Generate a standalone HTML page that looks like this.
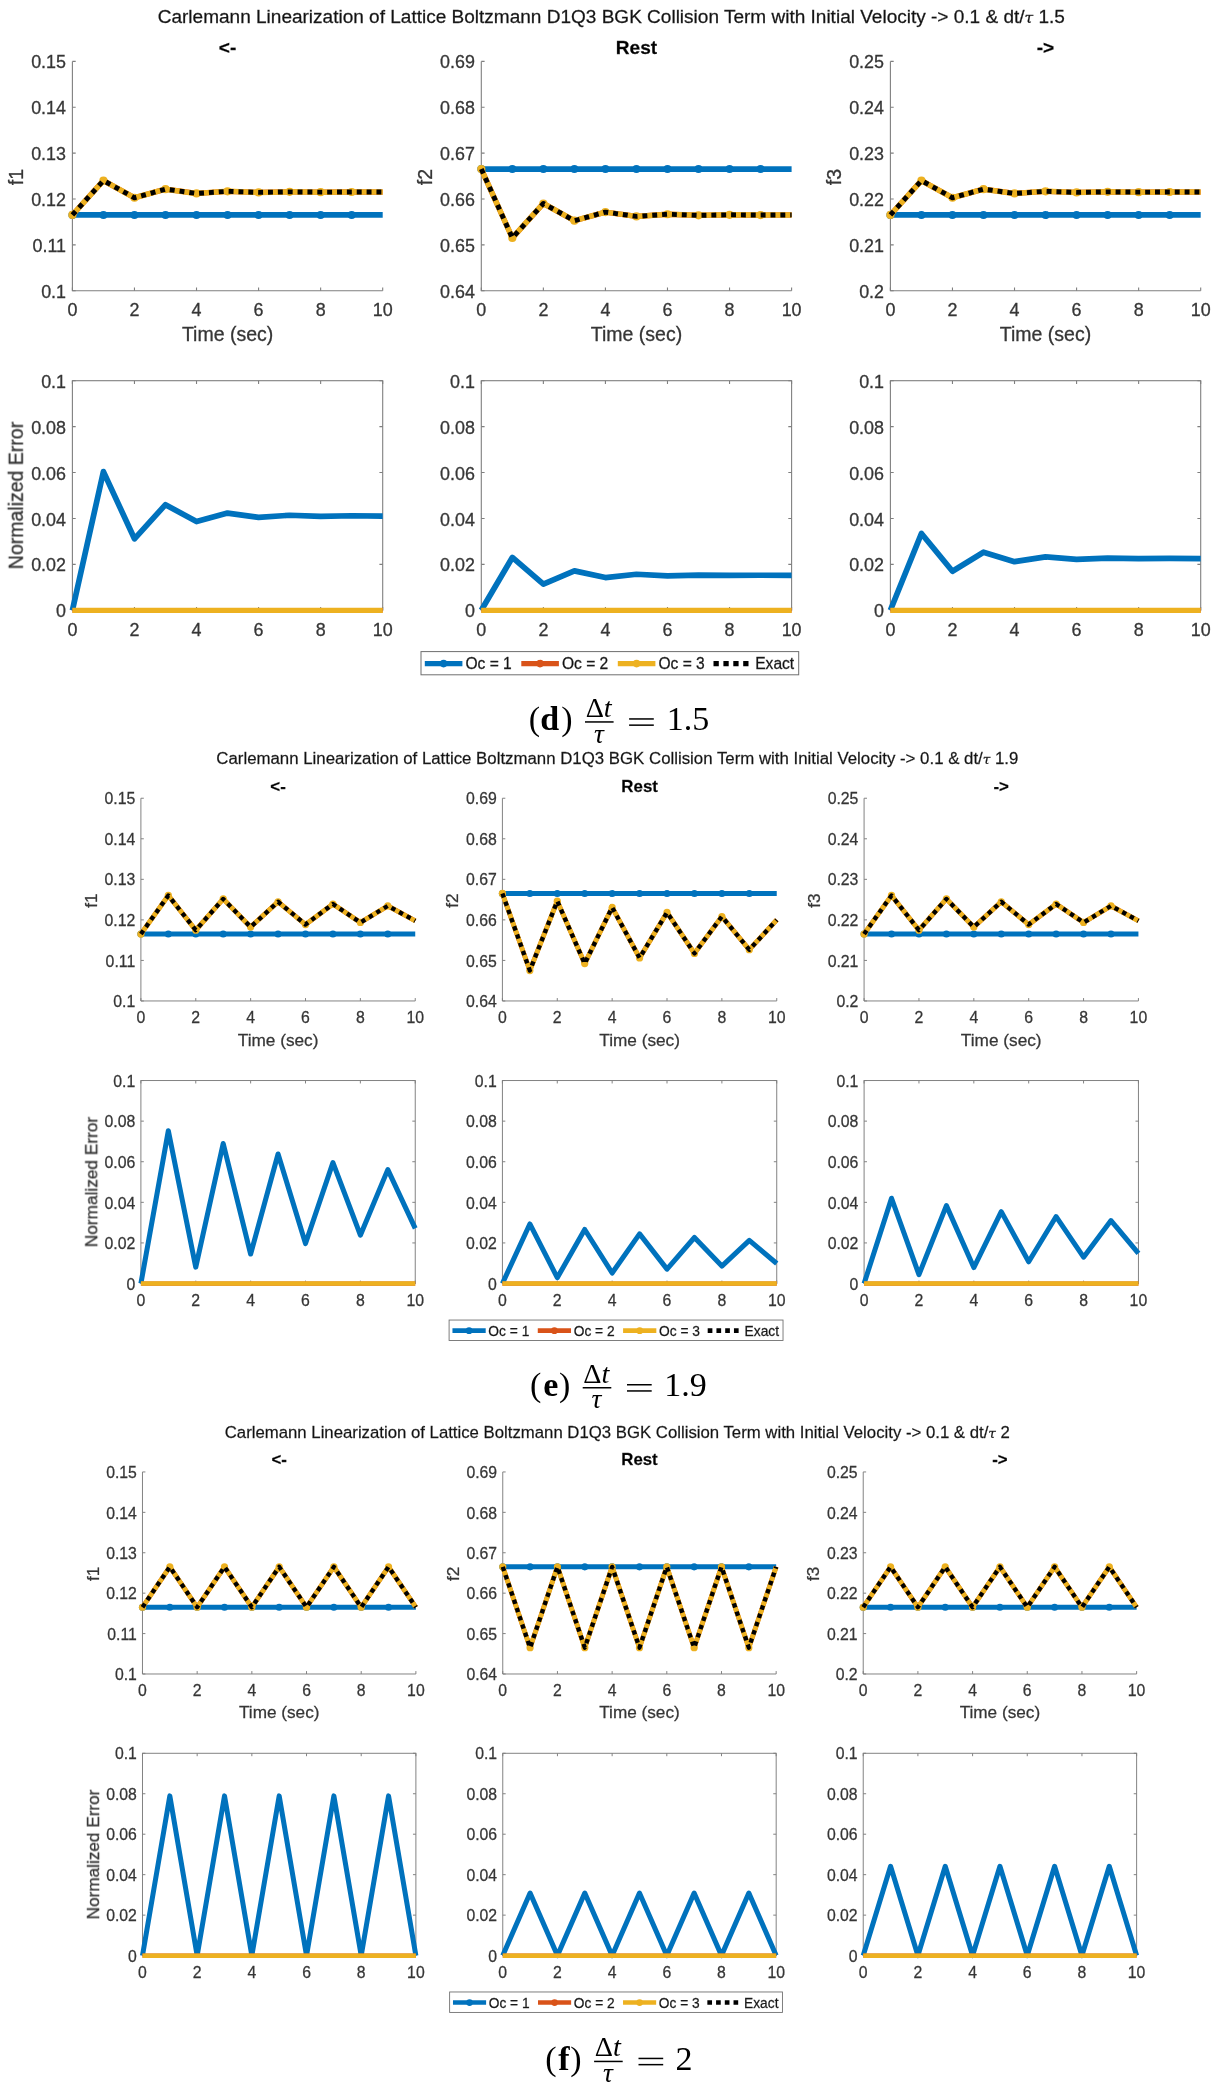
<!DOCTYPE html>
<html lang="en"><head><meta charset="utf-8"><title>Carlemann Linearization of Lattice Boltzmann D1Q3 BGK Collision Term</title>
<style>
html,body{margin:0;padding:0;background:#fff}
body{width:1217px;height:2090px;overflow:hidden}
svg{display:block}
svg text{font-family:"Liberation Sans",sans-serif}
svg text .tau{font-family:"DejaVu Serif","Liberation Serif",serif}
svg .fig text{stroke:#363636;stroke-width:0.3px}
svg .fig{filter:blur(0.45px)}
svg .ser text{font-family:"Liberation Serif","DejaVu Serif",serif}
</style></head><body>
<svg width="1217" height="2090" viewBox="0 0 1217 2090">
<rect width="1217" height="2090" fill="#fff"/>
<g class="fig" transform="translate(0.00,0.00) scale(1)">
<text x="611.3" y="22.8" font-size="19.03" text-anchor="middle" fill="#111">Carlemann Linearization of Lattice Boltzmann D1Q3 BGK Collision Term with Initial Velocity -&gt; 0.1 &amp; dt/<tspan class="tau" font-style="italic" font-size="15.5">τ</tspan> 1.5</text>
<path d="M72.4 61.4V290.7H382.70000000000005" fill="none" stroke="#7f7f7f" stroke-width="1.1"/>
<path d="M72.4 290.7v-3.3M72.4 61.4h3.3M134.46 290.7v-3.3M72.4 107.26h3.3M196.52 290.7v-3.3M72.4 153.12h3.3M258.58 290.7v-3.3M72.4 198.98h3.3M320.64 290.7v-3.3M72.4 244.84h3.3M382.7 290.7v-3.3M72.4 290.7h3.3" fill="none" stroke="#7f7f7f" stroke-width="1.1"/>
<text x="72.4" y="316.1" font-size="17.9" text-anchor="middle" fill="#363636">0</text>
<text x="66.0" y="297.7" font-size="17.9" text-anchor="end" fill="#363636">0.1</text>
<text x="134.46" y="316.1" font-size="17.9" text-anchor="middle" fill="#363636">2</text>
<text x="66.0" y="251.8" font-size="17.9" text-anchor="end" fill="#363636">0.11</text>
<text x="196.52" y="316.1" font-size="17.9" text-anchor="middle" fill="#363636">4</text>
<text x="66.0" y="206.0" font-size="17.9" text-anchor="end" fill="#363636">0.12</text>
<text x="258.58" y="316.1" font-size="17.9" text-anchor="middle" fill="#363636">6</text>
<text x="66.0" y="160.1" font-size="17.9" text-anchor="end" fill="#363636">0.13</text>
<text x="320.64" y="316.1" font-size="17.9" text-anchor="middle" fill="#363636">8</text>
<text x="66.0" y="114.3" font-size="17.9" text-anchor="end" fill="#363636">0.14</text>
<text x="382.7" y="316.1" font-size="17.9" text-anchor="middle" fill="#363636">10</text>
<text x="66.0" y="68.4" font-size="17.9" text-anchor="end" fill="#363636">0.15</text>
<text x="227.6" y="341.1" font-size="19.5" text-anchor="middle" fill="#363636">Time (sec)</text>
<text transform="translate(22.7,177.1) rotate(-90)" font-size="19.5" text-anchor="middle" fill="#363636">f1</text>
<text x="227.6" y="53.8" font-size="19.07" font-weight="bold" text-anchor="middle" fill="#000">&lt;-</text>
<path d="M72.4 214.97H382.7" stroke="#0072BD" stroke-width="5.7" fill="none"/>
<g fill="#0072BD"><circle cx="72.4" cy="214.97" r="4.0"/><circle cx="103.43" cy="214.97" r="4.0"/><circle cx="134.46" cy="214.97" r="4.0"/><circle cx="165.49" cy="214.97" r="4.0"/><circle cx="196.52" cy="214.97" r="4.0"/><circle cx="227.55" cy="214.97" r="4.0"/><circle cx="258.58" cy="214.97" r="4.0"/><circle cx="289.61" cy="214.97" r="4.0"/><circle cx="320.64" cy="214.97" r="4.0"/><circle cx="351.67" cy="214.97" r="4.0"/></g>
<polyline points="72.4,214.97 103.43,180.57 134.46,197.77 165.49,189.17 196.52,193.47 227.55,191.32 258.58,192.39 289.61,191.86 320.64,192.13 351.67,191.99 382.7,192.06" stroke="#D95319" stroke-width="5.3" fill="none" stroke-linejoin="round"/>
<polyline points="72.4,214.97 103.43,180.57 134.46,197.77 165.49,189.17 196.52,193.47 227.55,191.32 258.58,192.39 289.61,191.86 320.64,192.13 351.67,191.99 382.7,192.06" stroke="#EDB120" stroke-width="5.5" fill="none" stroke-linejoin="round"/>
<g fill="#EDB120"><circle cx="72.4" cy="214.97" r="4.1"/><circle cx="103.43" cy="180.57" r="4.1"/><circle cx="134.46" cy="197.77" r="4.1"/><circle cx="165.49" cy="189.17" r="4.1"/><circle cx="196.52" cy="193.47" r="4.1"/><circle cx="227.55" cy="191.32" r="4.1"/><circle cx="258.58" cy="192.39" r="4.1"/><circle cx="289.61" cy="191.86" r="4.1"/><circle cx="320.64" cy="192.13" r="4.1"/><circle cx="351.67" cy="191.99" r="4.1"/></g>
<polyline points="72.4,214.97 103.43,180.57 134.46,197.77 165.49,189.17 196.52,193.47 227.55,191.32 258.58,192.39 289.61,191.86 320.64,192.13 351.67,191.99 382.7,192.06" stroke="#000" stroke-width="4.9" fill="none" stroke-dasharray="4.93 4.93" stroke-linejoin="round"/>
<rect x="72.4" y="380.7" width="310.3" height="229.6" fill="none" stroke="#7f7f7f" stroke-width="1.1"/>
<path d="M72.4 610.3v-3.3M72.4 380.7v3.3M72.4 380.7h3.3M382.70000000000005 380.7h-3.3M134.46 610.3v-3.3M134.46 380.7v3.3M72.4 426.62h3.3M382.70000000000005 426.62h-3.3M196.52 610.3v-3.3M196.52 380.7v3.3M72.4 472.54h3.3M382.70000000000005 472.54h-3.3M258.58 610.3v-3.3M258.58 380.7v3.3M72.4 518.46h3.3M382.70000000000005 518.46h-3.3M320.64 610.3v-3.3M320.64 380.7v3.3M72.4 564.38h3.3M382.70000000000005 564.38h-3.3M382.7 610.3v-3.3M382.7 380.7v3.3M72.4 610.3h3.3M382.70000000000005 610.3h-3.3" fill="none" stroke="#7f7f7f" stroke-width="1.1"/>
<text x="72.4" y="635.7" font-size="17.9" text-anchor="middle" fill="#363636">0</text>
<text x="66.0" y="617.3" font-size="17.9" text-anchor="end" fill="#363636">0</text>
<text x="134.46" y="635.7" font-size="17.9" text-anchor="middle" fill="#363636">2</text>
<text x="66.0" y="571.4" font-size="17.9" text-anchor="end" fill="#363636">0.02</text>
<text x="196.52" y="635.7" font-size="17.9" text-anchor="middle" fill="#363636">4</text>
<text x="66.0" y="525.5" font-size="17.9" text-anchor="end" fill="#363636">0.04</text>
<text x="258.58" y="635.7" font-size="17.9" text-anchor="middle" fill="#363636">6</text>
<text x="66.0" y="479.5" font-size="17.9" text-anchor="end" fill="#363636">0.06</text>
<text x="320.64" y="635.7" font-size="17.9" text-anchor="middle" fill="#363636">8</text>
<text x="66.0" y="433.6" font-size="17.9" text-anchor="end" fill="#363636">0.08</text>
<text x="382.7" y="635.7" font-size="17.9" text-anchor="middle" fill="#363636">10</text>
<text x="66.0" y="387.7" font-size="17.9" text-anchor="end" fill="#363636">0.1</text>
<text transform="translate(22.8,495.5) rotate(-90)" font-size="19.5" text-anchor="middle" fill="#363636">Normalized Error</text>
<polyline points="72.4,610.3 103.43,471.62 134.46,538.8 165.49,504.69 196.52,521.61 227.55,513.12 258.58,517.36 289.61,515.24 320.64,516.3 351.67,515.77 382.7,516.03" stroke="#0072BD" stroke-width="5.7" fill="none" stroke-linejoin="round"/>
<path d="M72.4 610.3H382.70000000000005" stroke="#D95319" stroke-width="4.8" fill="none"/>
<path d="M72.4 610.4H382.70000000000005" stroke="#EDB120" stroke-width="5.1" fill="none"/>
<path d="M481.3 61.4V290.7H791.6" fill="none" stroke="#7f7f7f" stroke-width="1.1"/>
<path d="M481.3 290.7v-3.3M481.3 61.4h3.3M543.36 290.7v-3.3M481.3 107.26h3.3M605.42 290.7v-3.3M481.3 153.12h3.3M667.48 290.7v-3.3M481.3 198.98h3.3M729.54 290.7v-3.3M481.3 244.84h3.3M791.6 290.7v-3.3M481.3 290.7h3.3" fill="none" stroke="#7f7f7f" stroke-width="1.1"/>
<text x="481.3" y="316.1" font-size="17.9" text-anchor="middle" fill="#363636">0</text>
<text x="474.9" y="297.7" font-size="17.9" text-anchor="end" fill="#363636">0.64</text>
<text x="543.36" y="316.1" font-size="17.9" text-anchor="middle" fill="#363636">2</text>
<text x="474.9" y="251.8" font-size="17.9" text-anchor="end" fill="#363636">0.65</text>
<text x="605.42" y="316.1" font-size="17.9" text-anchor="middle" fill="#363636">4</text>
<text x="474.9" y="206.0" font-size="17.9" text-anchor="end" fill="#363636">0.66</text>
<text x="667.48" y="316.1" font-size="17.9" text-anchor="middle" fill="#363636">6</text>
<text x="474.9" y="160.1" font-size="17.9" text-anchor="end" fill="#363636">0.67</text>
<text x="729.54" y="316.1" font-size="17.9" text-anchor="middle" fill="#363636">8</text>
<text x="474.9" y="114.3" font-size="17.9" text-anchor="end" fill="#363636">0.68</text>
<text x="791.6" y="316.1" font-size="17.9" text-anchor="middle" fill="#363636">10</text>
<text x="474.9" y="68.4" font-size="17.9" text-anchor="end" fill="#363636">0.69</text>
<text x="636.5" y="341.1" font-size="19.5" text-anchor="middle" fill="#363636">Time (sec)</text>
<text transform="translate(431.6,177.1) rotate(-90)" font-size="19.5" text-anchor="middle" fill="#363636">f2</text>
<text x="636.5" y="53.8" font-size="19.07" font-weight="bold" text-anchor="middle" fill="#000">Rest</text>
<path d="M481.3 169.11H791.6" stroke="#0072BD" stroke-width="5.7" fill="none"/>
<g fill="#0072BD"><circle cx="481.3" cy="169.11" r="4.0"/><circle cx="512.33" cy="169.11" r="4.0"/><circle cx="543.36" cy="169.11" r="4.0"/><circle cx="574.39" cy="169.11" r="4.0"/><circle cx="605.42" cy="169.11" r="4.0"/><circle cx="636.45" cy="169.11" r="4.0"/><circle cx="667.48" cy="169.11" r="4.0"/><circle cx="698.51" cy="169.11" r="4.0"/><circle cx="729.54" cy="169.11" r="4.0"/><circle cx="760.57" cy="169.11" r="4.0"/></g>
<polyline points="481.3,169.11 512.33,237.9 543.36,203.5 574.39,220.7 605.42,212.1 636.45,216.4 667.48,214.25 698.51,215.32 729.54,214.79 760.57,215.06 791.6,214.92" stroke="#D95319" stroke-width="5.3" fill="none" stroke-linejoin="round"/>
<polyline points="481.3,169.11 512.33,237.9 543.36,203.5 574.39,220.7 605.42,212.1 636.45,216.4 667.48,214.25 698.51,215.32 729.54,214.79 760.57,215.06 791.6,214.92" stroke="#EDB120" stroke-width="5.5" fill="none" stroke-linejoin="round"/>
<g fill="#EDB120"><circle cx="481.3" cy="169.11" r="4.1"/><circle cx="512.33" cy="237.9" r="4.1"/><circle cx="543.36" cy="203.5" r="4.1"/><circle cx="574.39" cy="220.7" r="4.1"/><circle cx="605.42" cy="212.1" r="4.1"/><circle cx="636.45" cy="216.4" r="4.1"/><circle cx="667.48" cy="214.25" r="4.1"/><circle cx="698.51" cy="215.32" r="4.1"/><circle cx="729.54" cy="214.79" r="4.1"/><circle cx="760.57" cy="215.06" r="4.1"/></g>
<polyline points="481.3,169.11 512.33,237.9 543.36,203.5 574.39,220.7 605.42,212.1 636.45,216.4 667.48,214.25 698.51,215.32 729.54,214.79 760.57,215.06 791.6,214.92" stroke="#000" stroke-width="4.9" fill="none" stroke-dasharray="4.93 4.93" stroke-linejoin="round"/>
<rect x="481.3" y="380.7" width="310.3" height="229.6" fill="none" stroke="#7f7f7f" stroke-width="1.1"/>
<path d="M481.3 610.3v-3.3M481.3 380.7v3.3M481.3 380.7h3.3M791.6 380.7h-3.3M543.36 610.3v-3.3M543.36 380.7v3.3M481.3 426.62h3.3M791.6 426.62h-3.3M605.42 610.3v-3.3M605.42 380.7v3.3M481.3 472.54h3.3M791.6 472.54h-3.3M667.48 610.3v-3.3M667.48 380.7v3.3M481.3 518.46h3.3M791.6 518.46h-3.3M729.54 610.3v-3.3M729.54 380.7v3.3M481.3 564.38h3.3M791.6 564.38h-3.3M791.6 610.3v-3.3M791.6 380.7v3.3M481.3 610.3h3.3M791.6 610.3h-3.3" fill="none" stroke="#7f7f7f" stroke-width="1.1"/>
<text x="481.3" y="635.7" font-size="17.9" text-anchor="middle" fill="#363636">0</text>
<text x="474.9" y="617.3" font-size="17.9" text-anchor="end" fill="#363636">0</text>
<text x="543.36" y="635.7" font-size="17.9" text-anchor="middle" fill="#363636">2</text>
<text x="474.9" y="571.4" font-size="17.9" text-anchor="end" fill="#363636">0.02</text>
<text x="605.42" y="635.7" font-size="17.9" text-anchor="middle" fill="#363636">4</text>
<text x="474.9" y="525.5" font-size="17.9" text-anchor="end" fill="#363636">0.04</text>
<text x="667.48" y="635.7" font-size="17.9" text-anchor="middle" fill="#363636">6</text>
<text x="474.9" y="479.5" font-size="17.9" text-anchor="end" fill="#363636">0.06</text>
<text x="729.54" y="635.7" font-size="17.9" text-anchor="middle" fill="#363636">8</text>
<text x="474.9" y="433.6" font-size="17.9" text-anchor="end" fill="#363636">0.08</text>
<text x="791.6" y="635.7" font-size="17.9" text-anchor="middle" fill="#363636">10</text>
<text x="474.9" y="387.7" font-size="17.9" text-anchor="end" fill="#363636">0.1</text>
<polyline points="481.3,610.3 512.33,557.45 543.36,584.18 574.39,570.89 605.42,577.55 636.45,574.23 667.48,575.89 698.51,575.06 729.54,575.47 760.57,575.27 791.6,575.37" stroke="#0072BD" stroke-width="5.7" fill="none" stroke-linejoin="round"/>
<path d="M481.3 610.3H791.6" stroke="#D95319" stroke-width="4.8" fill="none"/>
<path d="M481.3 610.4H791.6" stroke="#EDB120" stroke-width="5.1" fill="none"/>
<path d="M890.4 61.4V290.7H1200.7" fill="none" stroke="#7f7f7f" stroke-width="1.1"/>
<path d="M890.4 290.7v-3.3M890.4 61.4h3.3M952.46 290.7v-3.3M890.4 107.26h3.3M1014.52 290.7v-3.3M890.4 153.12h3.3M1076.58 290.7v-3.3M890.4 198.98h3.3M1138.64 290.7v-3.3M890.4 244.84h3.3M1200.7 290.7v-3.3M890.4 290.7h3.3" fill="none" stroke="#7f7f7f" stroke-width="1.1"/>
<text x="890.4" y="316.1" font-size="17.9" text-anchor="middle" fill="#363636">0</text>
<text x="884.0" y="297.7" font-size="17.9" text-anchor="end" fill="#363636">0.2</text>
<text x="952.46" y="316.1" font-size="17.9" text-anchor="middle" fill="#363636">2</text>
<text x="884.0" y="251.8" font-size="17.9" text-anchor="end" fill="#363636">0.21</text>
<text x="1014.52" y="316.1" font-size="17.9" text-anchor="middle" fill="#363636">4</text>
<text x="884.0" y="206.0" font-size="17.9" text-anchor="end" fill="#363636">0.22</text>
<text x="1076.58" y="316.1" font-size="17.9" text-anchor="middle" fill="#363636">6</text>
<text x="884.0" y="160.1" font-size="17.9" text-anchor="end" fill="#363636">0.23</text>
<text x="1138.64" y="316.1" font-size="17.9" text-anchor="middle" fill="#363636">8</text>
<text x="884.0" y="114.3" font-size="17.9" text-anchor="end" fill="#363636">0.24</text>
<text x="1200.7" y="316.1" font-size="17.9" text-anchor="middle" fill="#363636">10</text>
<text x="884.0" y="68.4" font-size="17.9" text-anchor="end" fill="#363636">0.25</text>
<text x="1045.5" y="341.1" font-size="19.5" text-anchor="middle" fill="#363636">Time (sec)</text>
<text transform="translate(840.7,177.1) rotate(-90)" font-size="19.5" text-anchor="middle" fill="#363636">f3</text>
<text x="1045.5" y="53.8" font-size="19.07" font-weight="bold" text-anchor="middle" fill="#000">-&gt;</text>
<path d="M890.4 214.97H1200.7" stroke="#0072BD" stroke-width="5.7" fill="none"/>
<g fill="#0072BD"><circle cx="890.4" cy="214.97" r="4.0"/><circle cx="921.43" cy="214.97" r="4.0"/><circle cx="952.46" cy="214.97" r="4.0"/><circle cx="983.49" cy="214.97" r="4.0"/><circle cx="1014.52" cy="214.97" r="4.0"/><circle cx="1045.55" cy="214.97" r="4.0"/><circle cx="1076.58" cy="214.97" r="4.0"/><circle cx="1107.61" cy="214.97" r="4.0"/><circle cx="1138.64" cy="214.97" r="4.0"/><circle cx="1169.67" cy="214.97" r="4.0"/></g>
<polyline points="890.4,214.97 921.43,180.57 952.46,197.77 983.49,189.17 1014.52,193.47 1045.55,191.32 1076.58,192.39 1107.61,191.86 1138.64,192.13 1169.67,191.99 1200.7,192.06" stroke="#D95319" stroke-width="5.3" fill="none" stroke-linejoin="round"/>
<polyline points="890.4,214.97 921.43,180.57 952.46,197.77 983.49,189.17 1014.52,193.47 1045.55,191.32 1076.58,192.39 1107.61,191.86 1138.64,192.13 1169.67,191.99 1200.7,192.06" stroke="#EDB120" stroke-width="5.5" fill="none" stroke-linejoin="round"/>
<g fill="#EDB120"><circle cx="890.4" cy="214.97" r="4.1"/><circle cx="921.43" cy="180.57" r="4.1"/><circle cx="952.46" cy="197.77" r="4.1"/><circle cx="983.49" cy="189.17" r="4.1"/><circle cx="1014.52" cy="193.47" r="4.1"/><circle cx="1045.55" cy="191.32" r="4.1"/><circle cx="1076.58" cy="192.39" r="4.1"/><circle cx="1107.61" cy="191.86" r="4.1"/><circle cx="1138.64" cy="192.13" r="4.1"/><circle cx="1169.67" cy="191.99" r="4.1"/></g>
<polyline points="890.4,214.97 921.43,180.57 952.46,197.77 983.49,189.17 1014.52,193.47 1045.55,191.32 1076.58,192.39 1107.61,191.86 1138.64,192.13 1169.67,191.99 1200.7,192.06" stroke="#000" stroke-width="4.9" fill="none" stroke-dasharray="4.93 4.93" stroke-linejoin="round"/>
<rect x="890.4" y="380.7" width="310.3" height="229.6" fill="none" stroke="#7f7f7f" stroke-width="1.1"/>
<path d="M890.4 610.3v-3.3M890.4 380.7v3.3M890.4 380.7h3.3M1200.7 380.7h-3.3M952.46 610.3v-3.3M952.46 380.7v3.3M890.4 426.62h3.3M1200.7 426.62h-3.3M1014.52 610.3v-3.3M1014.52 380.7v3.3M890.4 472.54h3.3M1200.7 472.54h-3.3M1076.58 610.3v-3.3M1076.58 380.7v3.3M890.4 518.46h3.3M1200.7 518.46h-3.3M1138.64 610.3v-3.3M1138.64 380.7v3.3M890.4 564.38h3.3M1200.7 564.38h-3.3M1200.7 610.3v-3.3M1200.7 380.7v3.3M890.4 610.3h3.3M1200.7 610.3h-3.3" fill="none" stroke="#7f7f7f" stroke-width="1.1"/>
<text x="890.4" y="635.7" font-size="17.9" text-anchor="middle" fill="#363636">0</text>
<text x="884.0" y="617.3" font-size="17.9" text-anchor="end" fill="#363636">0</text>
<text x="952.46" y="635.7" font-size="17.9" text-anchor="middle" fill="#363636">2</text>
<text x="884.0" y="571.4" font-size="17.9" text-anchor="end" fill="#363636">0.02</text>
<text x="1014.52" y="635.7" font-size="17.9" text-anchor="middle" fill="#363636">4</text>
<text x="884.0" y="525.5" font-size="17.9" text-anchor="end" fill="#363636">0.04</text>
<text x="1076.58" y="635.7" font-size="17.9" text-anchor="middle" fill="#363636">6</text>
<text x="884.0" y="479.5" font-size="17.9" text-anchor="end" fill="#363636">0.06</text>
<text x="1138.64" y="635.7" font-size="17.9" text-anchor="middle" fill="#363636">8</text>
<text x="884.0" y="433.6" font-size="17.9" text-anchor="end" fill="#363636">0.08</text>
<text x="1200.7" y="635.7" font-size="17.9" text-anchor="middle" fill="#363636">10</text>
<text x="884.0" y="387.7" font-size="17.9" text-anchor="end" fill="#363636">0.1</text>
<polyline points="890.4,610.3 921.43,533.48 952.46,571.24 983.49,552.2 1014.52,561.68 1045.55,556.93 1076.58,559.3 1107.61,558.12 1138.64,558.71 1169.67,558.41 1200.7,558.56" stroke="#0072BD" stroke-width="5.7" fill="none" stroke-linejoin="round"/>
<path d="M890.4 610.3H1200.7" stroke="#D95319" stroke-width="4.8" fill="none"/>
<path d="M890.4 610.4H1200.7" stroke="#EDB120" stroke-width="5.1" fill="none"/>
<rect x="421.0" y="651.6" width="377.7" height="23.2" fill="#fff" stroke="#6e6e6e" stroke-width="1"/>
<path d="M424.8 663.6h37.6" stroke="#0072BD" stroke-width="5.2" fill="none"/><circle cx="443.6" cy="663.6" r="3.8" fill="#0072BD"/>
<text x="465.4" y="669.3" font-size="15.6" fill="#111">Oc = 1</text>
<path d="M521.3 663.6h37.6" stroke="#D95319" stroke-width="5.2" fill="none"/><circle cx="540.1" cy="663.6" r="3.8" fill="#D95319"/>
<text x="561.9" y="669.3" font-size="15.6" fill="#111">Oc = 2</text>
<path d="M617.8 663.6h37.6" stroke="#EDB120" stroke-width="5.2" fill="none"/><circle cx="636.6" cy="663.6" r="3.8" fill="#EDB120"/>
<text x="658.4" y="669.3" font-size="15.6" fill="#111">Oc = 3</text>
<path d="M713.5 663.6h36" stroke="#000" stroke-width="5.2" stroke-dasharray="5.3 4.6" fill="none"/>
<text x="755.2" y="669.3" font-size="15.6" fill="#111">Exact</text>
</g>
<g class="fig" transform="translate(76.89,743.96) scale(0.8841)">
<text x="611.3" y="22.8" font-size="19.03" text-anchor="middle" fill="#111">Carlemann Linearization of Lattice Boltzmann D1Q3 BGK Collision Term with Initial Velocity -&gt; 0.1 &amp; dt/<tspan class="tau" font-style="italic" font-size="15.5">τ</tspan> 1.9</text>
<path d="M72.4 61.4V290.7H382.70000000000005" fill="none" stroke="#7f7f7f" stroke-width="1.1"/>
<path d="M72.4 290.7v-3.3M72.4 61.4h3.3M134.46 290.7v-3.3M72.4 107.26h3.3M196.52 290.7v-3.3M72.4 153.12h3.3M258.58 290.7v-3.3M72.4 198.98h3.3M320.64 290.7v-3.3M72.4 244.84h3.3M382.7 290.7v-3.3M72.4 290.7h3.3" fill="none" stroke="#7f7f7f" stroke-width="1.1"/>
<text x="72.4" y="316.1" font-size="17.9" text-anchor="middle" fill="#363636">0</text>
<text x="66.0" y="297.7" font-size="17.9" text-anchor="end" fill="#363636">0.1</text>
<text x="134.46" y="316.1" font-size="17.9" text-anchor="middle" fill="#363636">2</text>
<text x="66.0" y="251.8" font-size="17.9" text-anchor="end" fill="#363636">0.11</text>
<text x="196.52" y="316.1" font-size="17.9" text-anchor="middle" fill="#363636">4</text>
<text x="66.0" y="206.0" font-size="17.9" text-anchor="end" fill="#363636">0.12</text>
<text x="258.58" y="316.1" font-size="17.9" text-anchor="middle" fill="#363636">6</text>
<text x="66.0" y="160.1" font-size="17.9" text-anchor="end" fill="#363636">0.13</text>
<text x="320.64" y="316.1" font-size="17.9" text-anchor="middle" fill="#363636">8</text>
<text x="66.0" y="114.3" font-size="17.9" text-anchor="end" fill="#363636">0.14</text>
<text x="382.7" y="316.1" font-size="17.9" text-anchor="middle" fill="#363636">10</text>
<text x="66.0" y="68.4" font-size="17.9" text-anchor="end" fill="#363636">0.15</text>
<text x="227.6" y="341.1" font-size="19.5" text-anchor="middle" fill="#363636">Time (sec)</text>
<text transform="translate(22.7,177.1) rotate(-90)" font-size="19.5" text-anchor="middle" fill="#363636">f1</text>
<text x="227.6" y="53.8" font-size="19.07" font-weight="bold" text-anchor="middle" fill="#000">&lt;-</text>
<path d="M72.4 214.97H382.7" stroke="#0072BD" stroke-width="5.7" fill="none"/>
<g fill="#0072BD"><circle cx="72.4" cy="214.97" r="4.0"/><circle cx="103.43" cy="214.97" r="4.0"/><circle cx="134.46" cy="214.97" r="4.0"/><circle cx="165.49" cy="214.97" r="4.0"/><circle cx="196.52" cy="214.97" r="4.0"/><circle cx="227.55" cy="214.97" r="4.0"/><circle cx="258.58" cy="214.97" r="4.0"/><circle cx="289.61" cy="214.97" r="4.0"/><circle cx="320.64" cy="214.97" r="4.0"/><circle cx="351.67" cy="214.97" r="4.0"/></g>
<polyline points="72.4,214.97 103.43,171.4 134.46,210.61 165.49,175.32 196.52,207.08 227.55,178.5 258.58,204.22 289.61,181.07 320.64,201.91 351.67,183.15 382.7,200.03" stroke="#D95319" stroke-width="5.3" fill="none" stroke-linejoin="round"/>
<polyline points="72.4,214.97 103.43,171.4 134.46,210.61 165.49,175.32 196.52,207.08 227.55,178.5 258.58,204.22 289.61,181.07 320.64,201.91 351.67,183.15 382.7,200.03" stroke="#EDB120" stroke-width="5.5" fill="none" stroke-linejoin="round"/>
<g fill="#EDB120"><circle cx="72.4" cy="214.97" r="4.1"/><circle cx="103.43" cy="171.4" r="4.1"/><circle cx="134.46" cy="210.61" r="4.1"/><circle cx="165.49" cy="175.32" r="4.1"/><circle cx="196.52" cy="207.08" r="4.1"/><circle cx="227.55" cy="178.5" r="4.1"/><circle cx="258.58" cy="204.22" r="4.1"/><circle cx="289.61" cy="181.07" r="4.1"/><circle cx="320.64" cy="201.91" r="4.1"/><circle cx="351.67" cy="183.15" r="4.1"/></g>
<polyline points="72.4,214.97 103.43,171.4 134.46,210.61 165.49,175.32 196.52,207.08 227.55,178.5 258.58,204.22 289.61,181.07 320.64,201.91 351.67,183.15 382.7,200.03" stroke="#000" stroke-width="4.9" fill="none" stroke-dasharray="4.93 4.93" stroke-linejoin="round"/>
<rect x="72.4" y="380.7" width="310.3" height="229.6" fill="none" stroke="#7f7f7f" stroke-width="1.1"/>
<path d="M72.4 610.3v-3.3M72.4 380.7v3.3M72.4 380.7h3.3M382.70000000000005 380.7h-3.3M134.46 610.3v-3.3M134.46 380.7v3.3M72.4 426.62h3.3M382.70000000000005 426.62h-3.3M196.52 610.3v-3.3M196.52 380.7v3.3M72.4 472.54h3.3M382.70000000000005 472.54h-3.3M258.58 610.3v-3.3M258.58 380.7v3.3M72.4 518.46h3.3M382.70000000000005 518.46h-3.3M320.64 610.3v-3.3M320.64 380.7v3.3M72.4 564.38h3.3M382.70000000000005 564.38h-3.3M382.7 610.3v-3.3M382.7 380.7v3.3M72.4 610.3h3.3M382.70000000000005 610.3h-3.3" fill="none" stroke="#7f7f7f" stroke-width="1.1"/>
<text x="72.4" y="635.7" font-size="17.9" text-anchor="middle" fill="#363636">0</text>
<text x="66.0" y="617.3" font-size="17.9" text-anchor="end" fill="#363636">0</text>
<text x="134.46" y="635.7" font-size="17.9" text-anchor="middle" fill="#363636">2</text>
<text x="66.0" y="571.4" font-size="17.9" text-anchor="end" fill="#363636">0.02</text>
<text x="196.52" y="635.7" font-size="17.9" text-anchor="middle" fill="#363636">4</text>
<text x="66.0" y="525.5" font-size="17.9" text-anchor="end" fill="#363636">0.04</text>
<text x="258.58" y="635.7" font-size="17.9" text-anchor="middle" fill="#363636">6</text>
<text x="66.0" y="479.5" font-size="17.9" text-anchor="end" fill="#363636">0.06</text>
<text x="320.64" y="635.7" font-size="17.9" text-anchor="middle" fill="#363636">8</text>
<text x="66.0" y="433.6" font-size="17.9" text-anchor="end" fill="#363636">0.08</text>
<text x="382.7" y="635.7" font-size="17.9" text-anchor="middle" fill="#363636">10</text>
<text x="66.0" y="387.7" font-size="17.9" text-anchor="end" fill="#363636">0.1</text>
<text transform="translate(22.8,495.5) rotate(-90)" font-size="19.5" text-anchor="middle" fill="#363636">Normalized Error</text>
<polyline points="72.4,610.3 103.43,437.42 134.46,591.76 165.49,451.9 196.52,576.95 227.55,463.78 258.58,565.1 289.61,473.5 320.64,555.59 351.67,481.44 382.7,547.95" stroke="#0072BD" stroke-width="5.7" fill="none" stroke-linejoin="round"/>
<path d="M72.4 610.3H382.70000000000005" stroke="#D95319" stroke-width="4.8" fill="none"/>
<path d="M72.4 610.4H382.70000000000005" stroke="#EDB120" stroke-width="5.1" fill="none"/>
<path d="M481.3 61.4V290.7H791.6" fill="none" stroke="#7f7f7f" stroke-width="1.1"/>
<path d="M481.3 290.7v-3.3M481.3 61.4h3.3M543.36 290.7v-3.3M481.3 107.26h3.3M605.42 290.7v-3.3M481.3 153.12h3.3M667.48 290.7v-3.3M481.3 198.98h3.3M729.54 290.7v-3.3M481.3 244.84h3.3M791.6 290.7v-3.3M481.3 290.7h3.3" fill="none" stroke="#7f7f7f" stroke-width="1.1"/>
<text x="481.3" y="316.1" font-size="17.9" text-anchor="middle" fill="#363636">0</text>
<text x="474.9" y="297.7" font-size="17.9" text-anchor="end" fill="#363636">0.64</text>
<text x="543.36" y="316.1" font-size="17.9" text-anchor="middle" fill="#363636">2</text>
<text x="474.9" y="251.8" font-size="17.9" text-anchor="end" fill="#363636">0.65</text>
<text x="605.42" y="316.1" font-size="17.9" text-anchor="middle" fill="#363636">4</text>
<text x="474.9" y="206.0" font-size="17.9" text-anchor="end" fill="#363636">0.66</text>
<text x="667.48" y="316.1" font-size="17.9" text-anchor="middle" fill="#363636">6</text>
<text x="474.9" y="160.1" font-size="17.9" text-anchor="end" fill="#363636">0.67</text>
<text x="729.54" y="316.1" font-size="17.9" text-anchor="middle" fill="#363636">8</text>
<text x="474.9" y="114.3" font-size="17.9" text-anchor="end" fill="#363636">0.68</text>
<text x="791.6" y="316.1" font-size="17.9" text-anchor="middle" fill="#363636">10</text>
<text x="474.9" y="68.4" font-size="17.9" text-anchor="end" fill="#363636">0.69</text>
<text x="636.5" y="341.1" font-size="19.5" text-anchor="middle" fill="#363636">Time (sec)</text>
<text transform="translate(431.6,177.1) rotate(-90)" font-size="19.5" text-anchor="middle" fill="#363636">f2</text>
<text x="636.5" y="53.8" font-size="19.07" font-weight="bold" text-anchor="middle" fill="#000">Rest</text>
<path d="M481.3 169.11H791.6" stroke="#0072BD" stroke-width="5.7" fill="none"/>
<g fill="#0072BD"><circle cx="481.3" cy="169.11" r="4.0"/><circle cx="512.33" cy="169.11" r="4.0"/><circle cx="543.36" cy="169.11" r="4.0"/><circle cx="574.39" cy="169.11" r="4.0"/><circle cx="605.42" cy="169.11" r="4.0"/><circle cx="636.45" cy="169.11" r="4.0"/><circle cx="667.48" cy="169.11" r="4.0"/><circle cx="698.51" cy="169.11" r="4.0"/><circle cx="729.54" cy="169.11" r="4.0"/><circle cx="760.57" cy="169.11" r="4.0"/></g>
<polyline points="481.3,169.11 512.33,256.24 543.36,177.82 574.39,248.4 605.42,184.88 636.45,242.05 667.48,190.59 698.51,236.9 729.54,195.23 760.57,232.73 791.6,198.98" stroke="#D95319" stroke-width="5.3" fill="none" stroke-linejoin="round"/>
<polyline points="481.3,169.11 512.33,256.24 543.36,177.82 574.39,248.4 605.42,184.88 636.45,242.05 667.48,190.59 698.51,236.9 729.54,195.23 760.57,232.73 791.6,198.98" stroke="#EDB120" stroke-width="5.5" fill="none" stroke-linejoin="round"/>
<g fill="#EDB120"><circle cx="481.3" cy="169.11" r="4.1"/><circle cx="512.33" cy="256.24" r="4.1"/><circle cx="543.36" cy="177.82" r="4.1"/><circle cx="574.39" cy="248.4" r="4.1"/><circle cx="605.42" cy="184.88" r="4.1"/><circle cx="636.45" cy="242.05" r="4.1"/><circle cx="667.48" cy="190.59" r="4.1"/><circle cx="698.51" cy="236.9" r="4.1"/><circle cx="729.54" cy="195.23" r="4.1"/><circle cx="760.57" cy="232.73" r="4.1"/></g>
<polyline points="481.3,169.11 512.33,256.24 543.36,177.82 574.39,248.4 605.42,184.88 636.45,242.05 667.48,190.59 698.51,236.9 729.54,195.23 760.57,232.73 791.6,198.98" stroke="#000" stroke-width="4.9" fill="none" stroke-dasharray="4.93 4.93" stroke-linejoin="round"/>
<rect x="481.3" y="380.7" width="310.3" height="229.6" fill="none" stroke="#7f7f7f" stroke-width="1.1"/>
<path d="M481.3 610.3v-3.3M481.3 380.7v3.3M481.3 380.7h3.3M791.6 380.7h-3.3M543.36 610.3v-3.3M543.36 380.7v3.3M481.3 426.62h3.3M791.6 426.62h-3.3M605.42 610.3v-3.3M605.42 380.7v3.3M481.3 472.54h3.3M791.6 472.54h-3.3M667.48 610.3v-3.3M667.48 380.7v3.3M481.3 518.46h3.3M791.6 518.46h-3.3M729.54 610.3v-3.3M729.54 380.7v3.3M481.3 564.38h3.3M791.6 564.38h-3.3M791.6 610.3v-3.3M791.6 380.7v3.3M481.3 610.3h3.3M791.6 610.3h-3.3" fill="none" stroke="#7f7f7f" stroke-width="1.1"/>
<text x="481.3" y="635.7" font-size="17.9" text-anchor="middle" fill="#363636">0</text>
<text x="474.9" y="617.3" font-size="17.9" text-anchor="end" fill="#363636">0</text>
<text x="543.36" y="635.7" font-size="17.9" text-anchor="middle" fill="#363636">2</text>
<text x="474.9" y="571.4" font-size="17.9" text-anchor="end" fill="#363636">0.02</text>
<text x="605.42" y="635.7" font-size="17.9" text-anchor="middle" fill="#363636">4</text>
<text x="474.9" y="525.5" font-size="17.9" text-anchor="end" fill="#363636">0.04</text>
<text x="667.48" y="635.7" font-size="17.9" text-anchor="middle" fill="#363636">6</text>
<text x="474.9" y="479.5" font-size="17.9" text-anchor="end" fill="#363636">0.06</text>
<text x="729.54" y="635.7" font-size="17.9" text-anchor="middle" fill="#363636">8</text>
<text x="474.9" y="433.6" font-size="17.9" text-anchor="end" fill="#363636">0.08</text>
<text x="791.6" y="635.7" font-size="17.9" text-anchor="middle" fill="#363636">10</text>
<text x="474.9" y="387.7" font-size="17.9" text-anchor="end" fill="#363636">0.1</text>
<polyline points="481.3,610.3 512.33,542.94 543.36,603.74 574.39,549.17 605.42,598.39 636.45,554.18 667.48,594.05 698.51,558.23 729.54,590.52 760.57,561.5 791.6,587.65" stroke="#0072BD" stroke-width="5.7" fill="none" stroke-linejoin="round"/>
<path d="M481.3 610.3H791.6" stroke="#D95319" stroke-width="4.8" fill="none"/>
<path d="M481.3 610.4H791.6" stroke="#EDB120" stroke-width="5.1" fill="none"/>
<path d="M890.4 61.4V290.7H1200.7" fill="none" stroke="#7f7f7f" stroke-width="1.1"/>
<path d="M890.4 290.7v-3.3M890.4 61.4h3.3M952.46 290.7v-3.3M890.4 107.26h3.3M1014.52 290.7v-3.3M890.4 153.12h3.3M1076.58 290.7v-3.3M890.4 198.98h3.3M1138.64 290.7v-3.3M890.4 244.84h3.3M1200.7 290.7v-3.3M890.4 290.7h3.3" fill="none" stroke="#7f7f7f" stroke-width="1.1"/>
<text x="890.4" y="316.1" font-size="17.9" text-anchor="middle" fill="#363636">0</text>
<text x="884.0" y="297.7" font-size="17.9" text-anchor="end" fill="#363636">0.2</text>
<text x="952.46" y="316.1" font-size="17.9" text-anchor="middle" fill="#363636">2</text>
<text x="884.0" y="251.8" font-size="17.9" text-anchor="end" fill="#363636">0.21</text>
<text x="1014.52" y="316.1" font-size="17.9" text-anchor="middle" fill="#363636">4</text>
<text x="884.0" y="206.0" font-size="17.9" text-anchor="end" fill="#363636">0.22</text>
<text x="1076.58" y="316.1" font-size="17.9" text-anchor="middle" fill="#363636">6</text>
<text x="884.0" y="160.1" font-size="17.9" text-anchor="end" fill="#363636">0.23</text>
<text x="1138.64" y="316.1" font-size="17.9" text-anchor="middle" fill="#363636">8</text>
<text x="884.0" y="114.3" font-size="17.9" text-anchor="end" fill="#363636">0.24</text>
<text x="1200.7" y="316.1" font-size="17.9" text-anchor="middle" fill="#363636">10</text>
<text x="884.0" y="68.4" font-size="17.9" text-anchor="end" fill="#363636">0.25</text>
<text x="1045.5" y="341.1" font-size="19.5" text-anchor="middle" fill="#363636">Time (sec)</text>
<text transform="translate(840.7,177.1) rotate(-90)" font-size="19.5" text-anchor="middle" fill="#363636">f3</text>
<text x="1045.5" y="53.8" font-size="19.07" font-weight="bold" text-anchor="middle" fill="#000">-&gt;</text>
<path d="M890.4 214.97H1200.7" stroke="#0072BD" stroke-width="5.7" fill="none"/>
<g fill="#0072BD"><circle cx="890.4" cy="214.97" r="4.0"/><circle cx="921.43" cy="214.97" r="4.0"/><circle cx="952.46" cy="214.97" r="4.0"/><circle cx="983.49" cy="214.97" r="4.0"/><circle cx="1014.52" cy="214.97" r="4.0"/><circle cx="1045.55" cy="214.97" r="4.0"/><circle cx="1076.58" cy="214.97" r="4.0"/><circle cx="1107.61" cy="214.97" r="4.0"/><circle cx="1138.64" cy="214.97" r="4.0"/><circle cx="1169.67" cy="214.97" r="4.0"/></g>
<polyline points="890.4,214.97 921.43,171.4 952.46,210.61 983.49,175.32 1014.52,207.08 1045.55,178.5 1076.58,204.22 1107.61,181.07 1138.64,201.91 1169.67,183.15 1200.7,200.03" stroke="#D95319" stroke-width="5.3" fill="none" stroke-linejoin="round"/>
<polyline points="890.4,214.97 921.43,171.4 952.46,210.61 983.49,175.32 1014.52,207.08 1045.55,178.5 1076.58,204.22 1107.61,181.07 1138.64,201.91 1169.67,183.15 1200.7,200.03" stroke="#EDB120" stroke-width="5.5" fill="none" stroke-linejoin="round"/>
<g fill="#EDB120"><circle cx="890.4" cy="214.97" r="4.1"/><circle cx="921.43" cy="171.4" r="4.1"/><circle cx="952.46" cy="210.61" r="4.1"/><circle cx="983.49" cy="175.32" r="4.1"/><circle cx="1014.52" cy="207.08" r="4.1"/><circle cx="1045.55" cy="178.5" r="4.1"/><circle cx="1076.58" cy="204.22" r="4.1"/><circle cx="1107.61" cy="181.07" r="4.1"/><circle cx="1138.64" cy="201.91" r="4.1"/><circle cx="1169.67" cy="183.15" r="4.1"/></g>
<polyline points="890.4,214.97 921.43,171.4 952.46,210.61 983.49,175.32 1014.52,207.08 1045.55,178.5 1076.58,204.22 1107.61,181.07 1138.64,201.91 1169.67,183.15 1200.7,200.03" stroke="#000" stroke-width="4.9" fill="none" stroke-dasharray="4.93 4.93" stroke-linejoin="round"/>
<rect x="890.4" y="380.7" width="310.3" height="229.6" fill="none" stroke="#7f7f7f" stroke-width="1.1"/>
<path d="M890.4 610.3v-3.3M890.4 380.7v3.3M890.4 380.7h3.3M1200.7 380.7h-3.3M952.46 610.3v-3.3M952.46 380.7v3.3M890.4 426.62h3.3M1200.7 426.62h-3.3M1014.52 610.3v-3.3M1014.52 380.7v3.3M890.4 472.54h3.3M1200.7 472.54h-3.3M1076.58 610.3v-3.3M1076.58 380.7v3.3M890.4 518.46h3.3M1200.7 518.46h-3.3M1138.64 610.3v-3.3M1138.64 380.7v3.3M890.4 564.38h3.3M1200.7 564.38h-3.3M1200.7 610.3v-3.3M1200.7 380.7v3.3M890.4 610.3h3.3M1200.7 610.3h-3.3" fill="none" stroke="#7f7f7f" stroke-width="1.1"/>
<text x="890.4" y="635.7" font-size="17.9" text-anchor="middle" fill="#363636">0</text>
<text x="884.0" y="617.3" font-size="17.9" text-anchor="end" fill="#363636">0</text>
<text x="952.46" y="635.7" font-size="17.9" text-anchor="middle" fill="#363636">2</text>
<text x="884.0" y="571.4" font-size="17.9" text-anchor="end" fill="#363636">0.02</text>
<text x="1014.52" y="635.7" font-size="17.9" text-anchor="middle" fill="#363636">4</text>
<text x="884.0" y="525.5" font-size="17.9" text-anchor="end" fill="#363636">0.04</text>
<text x="1076.58" y="635.7" font-size="17.9" text-anchor="middle" fill="#363636">6</text>
<text x="884.0" y="479.5" font-size="17.9" text-anchor="end" fill="#363636">0.06</text>
<text x="1138.64" y="635.7" font-size="17.9" text-anchor="middle" fill="#363636">8</text>
<text x="884.0" y="433.6" font-size="17.9" text-anchor="end" fill="#363636">0.08</text>
<text x="1200.7" y="635.7" font-size="17.9" text-anchor="middle" fill="#363636">10</text>
<text x="884.0" y="387.7" font-size="17.9" text-anchor="end" fill="#363636">0.1</text>
<polyline points="890.4,610.3 921.43,513.86 952.46,600.28 983.49,522.2 1014.52,592.22 1045.55,529.01 1076.58,585.74 1107.61,534.56 1138.64,580.51 1169.67,539.07 1200.7,576.3" stroke="#0072BD" stroke-width="5.7" fill="none" stroke-linejoin="round"/>
<path d="M890.4 610.3H1200.7" stroke="#D95319" stroke-width="4.8" fill="none"/>
<path d="M890.4 610.4H1200.7" stroke="#EDB120" stroke-width="5.1" fill="none"/>
<rect x="421.0" y="651.6" width="377.7" height="23.2" fill="#fff" stroke="#6e6e6e" stroke-width="1"/>
<path d="M424.8 663.6h37.6" stroke="#0072BD" stroke-width="5.2" fill="none"/><circle cx="443.6" cy="663.6" r="3.8" fill="#0072BD"/>
<text x="465.4" y="669.3" font-size="15.6" fill="#111">Oc = 1</text>
<path d="M521.3 663.6h37.6" stroke="#D95319" stroke-width="5.2" fill="none"/><circle cx="540.1" cy="663.6" r="3.8" fill="#D95319"/>
<text x="561.9" y="669.3" font-size="15.6" fill="#111">Oc = 2</text>
<path d="M617.8 663.6h37.6" stroke="#EDB120" stroke-width="5.2" fill="none"/><circle cx="636.6" cy="663.6" r="3.8" fill="#EDB120"/>
<text x="658.4" y="669.3" font-size="15.6" fill="#111">Oc = 3</text>
<path d="M713.5 663.6h36" stroke="#000" stroke-width="5.2" stroke-dasharray="5.3 4.6" fill="none"/>
<text x="755.2" y="669.3" font-size="15.6" fill="#111">Exact</text>
</g>
<g class="fig" transform="translate(78.69,1417.85) scale(0.8811)">
<text x="611.3" y="22.8" font-size="19.03" text-anchor="middle" fill="#111">Carlemann Linearization of Lattice Boltzmann D1Q3 BGK Collision Term with Initial Velocity -&gt; 0.1 &amp; dt/<tspan class="tau" font-style="italic" font-size="15.5">τ</tspan> 2</text>
<path d="M72.4 61.4V290.7H382.70000000000005" fill="none" stroke="#7f7f7f" stroke-width="1.1"/>
<path d="M72.4 290.7v-3.3M72.4 61.4h3.3M134.46 290.7v-3.3M72.4 107.26h3.3M196.52 290.7v-3.3M72.4 153.12h3.3M258.58 290.7v-3.3M72.4 198.98h3.3M320.64 290.7v-3.3M72.4 244.84h3.3M382.7 290.7v-3.3M72.4 290.7h3.3" fill="none" stroke="#7f7f7f" stroke-width="1.1"/>
<text x="72.4" y="316.1" font-size="17.9" text-anchor="middle" fill="#363636">0</text>
<text x="66.0" y="297.7" font-size="17.9" text-anchor="end" fill="#363636">0.1</text>
<text x="134.46" y="316.1" font-size="17.9" text-anchor="middle" fill="#363636">2</text>
<text x="66.0" y="251.8" font-size="17.9" text-anchor="end" fill="#363636">0.11</text>
<text x="196.52" y="316.1" font-size="17.9" text-anchor="middle" fill="#363636">4</text>
<text x="66.0" y="206.0" font-size="17.9" text-anchor="end" fill="#363636">0.12</text>
<text x="258.58" y="316.1" font-size="17.9" text-anchor="middle" fill="#363636">6</text>
<text x="66.0" y="160.1" font-size="17.9" text-anchor="end" fill="#363636">0.13</text>
<text x="320.64" y="316.1" font-size="17.9" text-anchor="middle" fill="#363636">8</text>
<text x="66.0" y="114.3" font-size="17.9" text-anchor="end" fill="#363636">0.14</text>
<text x="382.7" y="316.1" font-size="17.9" text-anchor="middle" fill="#363636">10</text>
<text x="66.0" y="68.4" font-size="17.9" text-anchor="end" fill="#363636">0.15</text>
<text x="227.6" y="341.1" font-size="19.5" text-anchor="middle" fill="#363636">Time (sec)</text>
<text transform="translate(22.7,177.1) rotate(-90)" font-size="19.5" text-anchor="middle" fill="#363636">f1</text>
<text x="227.6" y="53.8" font-size="19.07" font-weight="bold" text-anchor="middle" fill="#000">&lt;-</text>
<path d="M72.4 214.97H382.7" stroke="#0072BD" stroke-width="5.7" fill="none"/>
<g fill="#0072BD"><circle cx="72.4" cy="214.97" r="4.0"/><circle cx="103.43" cy="214.97" r="4.0"/><circle cx="134.46" cy="214.97" r="4.0"/><circle cx="165.49" cy="214.97" r="4.0"/><circle cx="196.52" cy="214.97" r="4.0"/><circle cx="227.55" cy="214.97" r="4.0"/><circle cx="258.58" cy="214.97" r="4.0"/><circle cx="289.61" cy="214.97" r="4.0"/><circle cx="320.64" cy="214.97" r="4.0"/><circle cx="351.67" cy="214.97" r="4.0"/></g>
<polyline points="72.4,214.97 103.43,169.11 134.46,214.97 165.49,169.11 196.52,214.97 227.55,169.11 258.58,214.97 289.61,169.11 320.64,214.97 351.67,169.11 382.7,214.97" stroke="#D95319" stroke-width="5.3" fill="none" stroke-linejoin="round"/>
<polyline points="72.4,214.97 103.43,169.11 134.46,214.97 165.49,169.11 196.52,214.97 227.55,169.11 258.58,214.97 289.61,169.11 320.64,214.97 351.67,169.11 382.7,214.97" stroke="#EDB120" stroke-width="5.5" fill="none" stroke-linejoin="round"/>
<g fill="#EDB120"><circle cx="72.4" cy="214.97" r="4.1"/><circle cx="103.43" cy="169.11" r="4.1"/><circle cx="134.46" cy="214.97" r="4.1"/><circle cx="165.49" cy="169.11" r="4.1"/><circle cx="196.52" cy="214.97" r="4.1"/><circle cx="227.55" cy="169.11" r="4.1"/><circle cx="258.58" cy="214.97" r="4.1"/><circle cx="289.61" cy="169.11" r="4.1"/><circle cx="320.64" cy="214.97" r="4.1"/><circle cx="351.67" cy="169.11" r="4.1"/></g>
<polyline points="72.4,214.97 103.43,169.11 134.46,214.97 165.49,169.11 196.52,214.97 227.55,169.11 258.58,214.97 289.61,169.11 320.64,214.97 351.67,169.11 382.7,214.97" stroke="#000" stroke-width="4.9" fill="none" stroke-dasharray="4.93 4.93" stroke-linejoin="round"/>
<rect x="72.4" y="380.7" width="310.3" height="229.6" fill="none" stroke="#7f7f7f" stroke-width="1.1"/>
<path d="M72.4 610.3v-3.3M72.4 380.7v3.3M72.4 380.7h3.3M382.70000000000005 380.7h-3.3M134.46 610.3v-3.3M134.46 380.7v3.3M72.4 426.62h3.3M382.70000000000005 426.62h-3.3M196.52 610.3v-3.3M196.52 380.7v3.3M72.4 472.54h3.3M382.70000000000005 472.54h-3.3M258.58 610.3v-3.3M258.58 380.7v3.3M72.4 518.46h3.3M382.70000000000005 518.46h-3.3M320.64 610.3v-3.3M320.64 380.7v3.3M72.4 564.38h3.3M382.70000000000005 564.38h-3.3M382.7 610.3v-3.3M382.7 380.7v3.3M72.4 610.3h3.3M382.70000000000005 610.3h-3.3" fill="none" stroke="#7f7f7f" stroke-width="1.1"/>
<text x="72.4" y="635.7" font-size="17.9" text-anchor="middle" fill="#363636">0</text>
<text x="66.0" y="617.3" font-size="17.9" text-anchor="end" fill="#363636">0</text>
<text x="134.46" y="635.7" font-size="17.9" text-anchor="middle" fill="#363636">2</text>
<text x="66.0" y="571.4" font-size="17.9" text-anchor="end" fill="#363636">0.02</text>
<text x="196.52" y="635.7" font-size="17.9" text-anchor="middle" fill="#363636">4</text>
<text x="66.0" y="525.5" font-size="17.9" text-anchor="end" fill="#363636">0.04</text>
<text x="258.58" y="635.7" font-size="17.9" text-anchor="middle" fill="#363636">6</text>
<text x="66.0" y="479.5" font-size="17.9" text-anchor="end" fill="#363636">0.06</text>
<text x="320.64" y="635.7" font-size="17.9" text-anchor="middle" fill="#363636">8</text>
<text x="66.0" y="433.6" font-size="17.9" text-anchor="end" fill="#363636">0.08</text>
<text x="382.7" y="635.7" font-size="17.9" text-anchor="middle" fill="#363636">10</text>
<text x="66.0" y="387.7" font-size="17.9" text-anchor="end" fill="#363636">0.1</text>
<text transform="translate(22.8,495.5) rotate(-90)" font-size="19.5" text-anchor="middle" fill="#363636">Normalized Error</text>
<polyline points="72.4,610.3 103.43,429.04 134.46,610.3 165.49,429.04 196.52,610.3 227.55,429.04 258.58,610.3 289.61,429.04 320.64,610.3 351.67,429.04 382.7,610.3" stroke="#0072BD" stroke-width="5.7" fill="none" stroke-linejoin="round"/>
<path d="M72.4 610.3H382.70000000000005" stroke="#D95319" stroke-width="4.8" fill="none"/>
<path d="M72.4 610.4H382.70000000000005" stroke="#EDB120" stroke-width="5.1" fill="none"/>
<path d="M481.3 61.4V290.7H791.6" fill="none" stroke="#7f7f7f" stroke-width="1.1"/>
<path d="M481.3 290.7v-3.3M481.3 61.4h3.3M543.36 290.7v-3.3M481.3 107.26h3.3M605.42 290.7v-3.3M481.3 153.12h3.3M667.48 290.7v-3.3M481.3 198.98h3.3M729.54 290.7v-3.3M481.3 244.84h3.3M791.6 290.7v-3.3M481.3 290.7h3.3" fill="none" stroke="#7f7f7f" stroke-width="1.1"/>
<text x="481.3" y="316.1" font-size="17.9" text-anchor="middle" fill="#363636">0</text>
<text x="474.9" y="297.7" font-size="17.9" text-anchor="end" fill="#363636">0.64</text>
<text x="543.36" y="316.1" font-size="17.9" text-anchor="middle" fill="#363636">2</text>
<text x="474.9" y="251.8" font-size="17.9" text-anchor="end" fill="#363636">0.65</text>
<text x="605.42" y="316.1" font-size="17.9" text-anchor="middle" fill="#363636">4</text>
<text x="474.9" y="206.0" font-size="17.9" text-anchor="end" fill="#363636">0.66</text>
<text x="667.48" y="316.1" font-size="17.9" text-anchor="middle" fill="#363636">6</text>
<text x="474.9" y="160.1" font-size="17.9" text-anchor="end" fill="#363636">0.67</text>
<text x="729.54" y="316.1" font-size="17.9" text-anchor="middle" fill="#363636">8</text>
<text x="474.9" y="114.3" font-size="17.9" text-anchor="end" fill="#363636">0.68</text>
<text x="791.6" y="316.1" font-size="17.9" text-anchor="middle" fill="#363636">10</text>
<text x="474.9" y="68.4" font-size="17.9" text-anchor="end" fill="#363636">0.69</text>
<text x="636.5" y="341.1" font-size="19.5" text-anchor="middle" fill="#363636">Time (sec)</text>
<text transform="translate(431.6,177.1) rotate(-90)" font-size="19.5" text-anchor="middle" fill="#363636">f2</text>
<text x="636.5" y="53.8" font-size="19.07" font-weight="bold" text-anchor="middle" fill="#000">Rest</text>
<path d="M481.3 169.11H791.6" stroke="#0072BD" stroke-width="5.7" fill="none"/>
<g fill="#0072BD"><circle cx="481.3" cy="169.11" r="4.0"/><circle cx="512.33" cy="169.11" r="4.0"/><circle cx="543.36" cy="169.11" r="4.0"/><circle cx="574.39" cy="169.11" r="4.0"/><circle cx="605.42" cy="169.11" r="4.0"/><circle cx="636.45" cy="169.11" r="4.0"/><circle cx="667.48" cy="169.11" r="4.0"/><circle cx="698.51" cy="169.11" r="4.0"/><circle cx="729.54" cy="169.11" r="4.0"/><circle cx="760.57" cy="169.11" r="4.0"/></g>
<polyline points="481.3,169.11 512.33,260.83 543.36,169.11 574.39,260.83 605.42,169.11 636.45,260.83 667.48,169.11 698.51,260.83 729.54,169.11 760.57,260.83 791.6,169.11" stroke="#D95319" stroke-width="5.3" fill="none" stroke-linejoin="round"/>
<polyline points="481.3,169.11 512.33,260.83 543.36,169.11 574.39,260.83 605.42,169.11 636.45,260.83 667.48,169.11 698.51,260.83 729.54,169.11 760.57,260.83 791.6,169.11" stroke="#EDB120" stroke-width="5.5" fill="none" stroke-linejoin="round"/>
<g fill="#EDB120"><circle cx="481.3" cy="169.11" r="4.1"/><circle cx="512.33" cy="260.83" r="4.1"/><circle cx="543.36" cy="169.11" r="4.1"/><circle cx="574.39" cy="260.83" r="4.1"/><circle cx="605.42" cy="169.11" r="4.1"/><circle cx="636.45" cy="260.83" r="4.1"/><circle cx="667.48" cy="169.11" r="4.1"/><circle cx="698.51" cy="260.83" r="4.1"/><circle cx="729.54" cy="169.11" r="4.1"/><circle cx="760.57" cy="260.83" r="4.1"/></g>
<polyline points="481.3,169.11 512.33,260.83 543.36,169.11 574.39,260.83 605.42,169.11 636.45,260.83 667.48,169.11 698.51,260.83 729.54,169.11 760.57,260.83 791.6,169.11" stroke="#000" stroke-width="4.9" fill="none" stroke-dasharray="4.93 4.93" stroke-linejoin="round"/>
<rect x="481.3" y="380.7" width="310.3" height="229.6" fill="none" stroke="#7f7f7f" stroke-width="1.1"/>
<path d="M481.3 610.3v-3.3M481.3 380.7v3.3M481.3 380.7h3.3M791.6 380.7h-3.3M543.36 610.3v-3.3M543.36 380.7v3.3M481.3 426.62h3.3M791.6 426.62h-3.3M605.42 610.3v-3.3M605.42 380.7v3.3M481.3 472.54h3.3M791.6 472.54h-3.3M667.48 610.3v-3.3M667.48 380.7v3.3M481.3 518.46h3.3M791.6 518.46h-3.3M729.54 610.3v-3.3M729.54 380.7v3.3M481.3 564.38h3.3M791.6 564.38h-3.3M791.6 610.3v-3.3M791.6 380.7v3.3M481.3 610.3h3.3M791.6 610.3h-3.3" fill="none" stroke="#7f7f7f" stroke-width="1.1"/>
<text x="481.3" y="635.7" font-size="17.9" text-anchor="middle" fill="#363636">0</text>
<text x="474.9" y="617.3" font-size="17.9" text-anchor="end" fill="#363636">0</text>
<text x="543.36" y="635.7" font-size="17.9" text-anchor="middle" fill="#363636">2</text>
<text x="474.9" y="571.4" font-size="17.9" text-anchor="end" fill="#363636">0.02</text>
<text x="605.42" y="635.7" font-size="17.9" text-anchor="middle" fill="#363636">4</text>
<text x="474.9" y="525.5" font-size="17.9" text-anchor="end" fill="#363636">0.04</text>
<text x="667.48" y="635.7" font-size="17.9" text-anchor="middle" fill="#363636">6</text>
<text x="474.9" y="479.5" font-size="17.9" text-anchor="end" fill="#363636">0.06</text>
<text x="729.54" y="635.7" font-size="17.9" text-anchor="middle" fill="#363636">8</text>
<text x="474.9" y="433.6" font-size="17.9" text-anchor="end" fill="#363636">0.08</text>
<text x="791.6" y="635.7" font-size="17.9" text-anchor="middle" fill="#363636">10</text>
<text x="474.9" y="387.7" font-size="17.9" text-anchor="end" fill="#363636">0.1</text>
<polyline points="481.3,610.3 512.33,539.29 543.36,610.3 574.39,539.29 605.42,610.3 636.45,539.29 667.48,610.3 698.51,539.29 729.54,610.3 760.57,539.29 791.6,610.3" stroke="#0072BD" stroke-width="5.7" fill="none" stroke-linejoin="round"/>
<path d="M481.3 610.3H791.6" stroke="#D95319" stroke-width="4.8" fill="none"/>
<path d="M481.3 610.4H791.6" stroke="#EDB120" stroke-width="5.1" fill="none"/>
<path d="M890.4 61.4V290.7H1200.7" fill="none" stroke="#7f7f7f" stroke-width="1.1"/>
<path d="M890.4 290.7v-3.3M890.4 61.4h3.3M952.46 290.7v-3.3M890.4 107.26h3.3M1014.52 290.7v-3.3M890.4 153.12h3.3M1076.58 290.7v-3.3M890.4 198.98h3.3M1138.64 290.7v-3.3M890.4 244.84h3.3M1200.7 290.7v-3.3M890.4 290.7h3.3" fill="none" stroke="#7f7f7f" stroke-width="1.1"/>
<text x="890.4" y="316.1" font-size="17.9" text-anchor="middle" fill="#363636">0</text>
<text x="884.0" y="297.7" font-size="17.9" text-anchor="end" fill="#363636">0.2</text>
<text x="952.46" y="316.1" font-size="17.9" text-anchor="middle" fill="#363636">2</text>
<text x="884.0" y="251.8" font-size="17.9" text-anchor="end" fill="#363636">0.21</text>
<text x="1014.52" y="316.1" font-size="17.9" text-anchor="middle" fill="#363636">4</text>
<text x="884.0" y="206.0" font-size="17.9" text-anchor="end" fill="#363636">0.22</text>
<text x="1076.58" y="316.1" font-size="17.9" text-anchor="middle" fill="#363636">6</text>
<text x="884.0" y="160.1" font-size="17.9" text-anchor="end" fill="#363636">0.23</text>
<text x="1138.64" y="316.1" font-size="17.9" text-anchor="middle" fill="#363636">8</text>
<text x="884.0" y="114.3" font-size="17.9" text-anchor="end" fill="#363636">0.24</text>
<text x="1200.7" y="316.1" font-size="17.9" text-anchor="middle" fill="#363636">10</text>
<text x="884.0" y="68.4" font-size="17.9" text-anchor="end" fill="#363636">0.25</text>
<text x="1045.5" y="341.1" font-size="19.5" text-anchor="middle" fill="#363636">Time (sec)</text>
<text transform="translate(840.7,177.1) rotate(-90)" font-size="19.5" text-anchor="middle" fill="#363636">f3</text>
<text x="1045.5" y="53.8" font-size="19.07" font-weight="bold" text-anchor="middle" fill="#000">-&gt;</text>
<path d="M890.4 214.97H1200.7" stroke="#0072BD" stroke-width="5.7" fill="none"/>
<g fill="#0072BD"><circle cx="890.4" cy="214.97" r="4.0"/><circle cx="921.43" cy="214.97" r="4.0"/><circle cx="952.46" cy="214.97" r="4.0"/><circle cx="983.49" cy="214.97" r="4.0"/><circle cx="1014.52" cy="214.97" r="4.0"/><circle cx="1045.55" cy="214.97" r="4.0"/><circle cx="1076.58" cy="214.97" r="4.0"/><circle cx="1107.61" cy="214.97" r="4.0"/><circle cx="1138.64" cy="214.97" r="4.0"/><circle cx="1169.67" cy="214.97" r="4.0"/></g>
<polyline points="890.4,214.97 921.43,169.11 952.46,214.97 983.49,169.11 1014.52,214.97 1045.55,169.11 1076.58,214.97 1107.61,169.11 1138.64,214.97 1169.67,169.11 1200.7,214.97" stroke="#D95319" stroke-width="5.3" fill="none" stroke-linejoin="round"/>
<polyline points="890.4,214.97 921.43,169.11 952.46,214.97 983.49,169.11 1014.52,214.97 1045.55,169.11 1076.58,214.97 1107.61,169.11 1138.64,214.97 1169.67,169.11 1200.7,214.97" stroke="#EDB120" stroke-width="5.5" fill="none" stroke-linejoin="round"/>
<g fill="#EDB120"><circle cx="890.4" cy="214.97" r="4.1"/><circle cx="921.43" cy="169.11" r="4.1"/><circle cx="952.46" cy="214.97" r="4.1"/><circle cx="983.49" cy="169.11" r="4.1"/><circle cx="1014.52" cy="214.97" r="4.1"/><circle cx="1045.55" cy="169.11" r="4.1"/><circle cx="1076.58" cy="214.97" r="4.1"/><circle cx="1107.61" cy="169.11" r="4.1"/><circle cx="1138.64" cy="214.97" r="4.1"/><circle cx="1169.67" cy="169.11" r="4.1"/></g>
<polyline points="890.4,214.97 921.43,169.11 952.46,214.97 983.49,169.11 1014.52,214.97 1045.55,169.11 1076.58,214.97 1107.61,169.11 1138.64,214.97 1169.67,169.11 1200.7,214.97" stroke="#000" stroke-width="4.9" fill="none" stroke-dasharray="4.93 4.93" stroke-linejoin="round"/>
<rect x="890.4" y="380.7" width="310.3" height="229.6" fill="none" stroke="#7f7f7f" stroke-width="1.1"/>
<path d="M890.4 610.3v-3.3M890.4 380.7v3.3M890.4 380.7h3.3M1200.7 380.7h-3.3M952.46 610.3v-3.3M952.46 380.7v3.3M890.4 426.62h3.3M1200.7 426.62h-3.3M1014.52 610.3v-3.3M1014.52 380.7v3.3M890.4 472.54h3.3M1200.7 472.54h-3.3M1076.58 610.3v-3.3M1076.58 380.7v3.3M890.4 518.46h3.3M1200.7 518.46h-3.3M1138.64 610.3v-3.3M1138.64 380.7v3.3M890.4 564.38h3.3M1200.7 564.38h-3.3M1200.7 610.3v-3.3M1200.7 380.7v3.3M890.4 610.3h3.3M1200.7 610.3h-3.3" fill="none" stroke="#7f7f7f" stroke-width="1.1"/>
<text x="890.4" y="635.7" font-size="17.9" text-anchor="middle" fill="#363636">0</text>
<text x="884.0" y="617.3" font-size="17.9" text-anchor="end" fill="#363636">0</text>
<text x="952.46" y="635.7" font-size="17.9" text-anchor="middle" fill="#363636">2</text>
<text x="884.0" y="571.4" font-size="17.9" text-anchor="end" fill="#363636">0.02</text>
<text x="1014.52" y="635.7" font-size="17.9" text-anchor="middle" fill="#363636">4</text>
<text x="884.0" y="525.5" font-size="17.9" text-anchor="end" fill="#363636">0.04</text>
<text x="1076.58" y="635.7" font-size="17.9" text-anchor="middle" fill="#363636">6</text>
<text x="884.0" y="479.5" font-size="17.9" text-anchor="end" fill="#363636">0.06</text>
<text x="1138.64" y="635.7" font-size="17.9" text-anchor="middle" fill="#363636">8</text>
<text x="884.0" y="433.6" font-size="17.9" text-anchor="end" fill="#363636">0.08</text>
<text x="1200.7" y="635.7" font-size="17.9" text-anchor="middle" fill="#363636">10</text>
<text x="884.0" y="387.7" font-size="17.9" text-anchor="end" fill="#363636">0.1</text>
<polyline points="890.4,610.3 921.43,509.01 952.46,610.3 983.49,509.01 1014.52,610.3 1045.55,509.01 1076.58,610.3 1107.61,509.01 1138.64,610.3 1169.67,509.01 1200.7,610.3" stroke="#0072BD" stroke-width="5.7" fill="none" stroke-linejoin="round"/>
<path d="M890.4 610.3H1200.7" stroke="#D95319" stroke-width="4.8" fill="none"/>
<path d="M890.4 610.4H1200.7" stroke="#EDB120" stroke-width="5.1" fill="none"/>
<rect x="421.0" y="651.6" width="377.7" height="23.2" fill="#fff" stroke="#6e6e6e" stroke-width="1"/>
<path d="M424.8 663.6h37.6" stroke="#0072BD" stroke-width="5.2" fill="none"/><circle cx="443.6" cy="663.6" r="3.8" fill="#0072BD"/>
<text x="465.4" y="669.3" font-size="15.6" fill="#111">Oc = 1</text>
<path d="M521.3 663.6h37.6" stroke="#D95319" stroke-width="5.2" fill="none"/><circle cx="540.1" cy="663.6" r="3.8" fill="#D95319"/>
<text x="561.9" y="669.3" font-size="15.6" fill="#111">Oc = 2</text>
<path d="M617.8 663.6h37.6" stroke="#EDB120" stroke-width="5.2" fill="none"/><circle cx="636.6" cy="663.6" r="3.8" fill="#EDB120"/>
<text x="658.4" y="669.3" font-size="15.6" fill="#111">Oc = 3</text>
<path d="M713.5 663.6h36" stroke="#000" stroke-width="5.2" stroke-dasharray="5.3 4.6" fill="none"/>
<text x="755.2" y="669.3" font-size="15.6" fill="#111">Exact</text>
</g>
<g class="ser" fill="#000">
<text x="528.8" y="730.2" font-size="34">(</text>
<text x="549.7" y="730.2" font-size="34" font-weight="bold" text-anchor="middle">d</text>
<text x="572.7" y="730.2" font-size="34" text-anchor="end">)</text>
<text x="598.7" y="716.8" font-size="28.3" text-anchor="middle">Δ<tspan font-style="italic">t</tspan></text>
<rect x="585.0" y="721.2" width="28.6" height="1.5"/>
<text x="598.8" y="742.5" font-size="27.5" font-style="italic" text-anchor="middle">τ</text>
<rect x="629.1" y="718.2" width="24.7" height="1.5"/><rect x="629.1" y="724.4" width="24.7" height="1.5"/>
<text x="666.8" y="730.2" font-size="34">1.5</text>
</g>
<g class="ser" fill="#000">
<text x="529.9" y="1396.0" font-size="34">(</text>
<text x="550.9" y="1396.0" font-size="34" font-weight="bold" text-anchor="middle">e</text>
<text x="570.3" y="1396.0" font-size="34" text-anchor="end">)</text>
<text x="596.4" y="1382.6" font-size="28.3" text-anchor="middle">Δ<tspan font-style="italic">t</tspan></text>
<rect x="582.7" y="1387.0" width="28.6" height="1.5"/>
<text x="596.5" y="1408.3" font-size="27.5" font-style="italic" text-anchor="middle">τ</text>
<rect x="627.0" y="1384.0" width="24.7" height="1.5"/><rect x="627.0" y="1390.2" width="24.7" height="1.5"/>
<text x="664.3" y="1396.0" font-size="34">1.9</text>
</g>
<g class="ser" fill="#000">
<text x="545.2" y="2069.7" font-size="34">(</text>
<text x="564.0" y="2069.7" font-size="34" font-weight="bold" text-anchor="middle">f</text>
<text x="581.7" y="2069.7" font-size="34" text-anchor="end">)</text>
<text x="607.8" y="2056.3" font-size="28.3" text-anchor="middle">Δ<tspan font-style="italic">t</tspan></text>
<rect x="594.1" y="2060.7" width="28.6" height="1.5"/>
<text x="607.9" y="2082.0" font-size="27.5" font-style="italic" text-anchor="middle">τ</text>
<rect x="638.5" y="2057.7" width="24.7" height="1.5"/><rect x="638.5" y="2063.9" width="24.7" height="1.5"/>
<text x="675.4" y="2069.7" font-size="34">2</text>
</g>
</svg>
</body></html>
